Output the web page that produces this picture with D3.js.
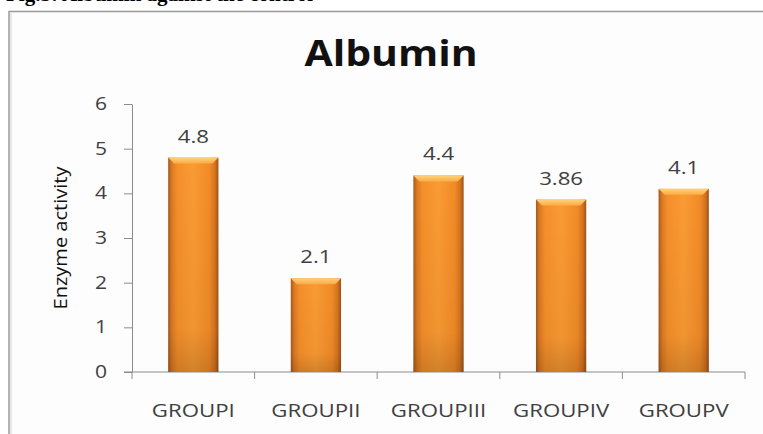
<!DOCTYPE html>
<html>
<head>
<meta charset="utf-8">
<script src="https://cdn.jsdelivr.net/npm/d3@7"></script>
<style>
  html, body { margin: 0; padding: 0; background: #fff; }
  svg { display: block; }
</style>
</head>
<body>
<svg id="chart" width="763" height="434"></svg>
<script>
// data
const groups = ["GROUPI", "GROUPII", "GROUPIII", "GROUPIV", "GROUPV"];
const albumin = [4.8, 2.1, 4.4, 3.86, 4.1];
const valueLabels = ["4.8", "2.1", "4.4", "3.86", "4.1"];
const yTicks = [0, 1, 2, 3, 4, 5, 6];

const svg = d3.select("#chart"),
  width = 763,
  height = 434;

const margin = { left: 132, right: 18, top: 104, bottom: 62 };
const textColor = "#404040";
const axisColor = "#8c8c8c";
const stretch = 1.17; // the source picture is stretched sideways

// places a text at (x, y) with the same sideways stretch as the source
function place(sel, fx, fy) {
  return sel.attr("transform", (d, i) => `translate(${fx(d, i)},${fy(d, i)}) scale(${stretch},1)`);
}

// caption line, cut off by the top edge of the page as in the source
svg.append("text")
  .attr("x", 6)
  .attr("y", 1)
  .attr("font-family", "Liberation Serif")
  .attr("font-weight", "bold")
  .attr("font-size", 21)
  .attr("fill", "#000")
  .text("Fig.3: Albumin against the control");

// chart frame
svg.append("rect")
  .attr("x", 9)
  .attr("y", 11.5)
  .attr("width", width + 20)
  .attr("height", height + 20)
  .attr("fill", "#fdfdfd")
  .attr("stroke", "#9a9a9a")
  .attr("stroke-width", 1.5);
svg.append("line")
  .attr("x1", 11).attr("x2", 11)
  .attr("y1", 13).attr("y2", height)
  .attr("stroke", "#d0d0d0");

const x = d3.scaleBand()
  .domain(groups)
  .range([margin.left, width - margin.right])
  .paddingInner(0.59)
  .paddingOuter(0.295);

const y = d3.scaleLinear()
  .domain([0, 6])
  .range([height - margin.bottom, margin.top]);

// gradients for the bevelled bars
const defs = svg.append("defs");
const side = defs.append("linearGradient").attr("id", "barSide")
  .attr("x1", "0%").attr("x2", "100%").attr("y1", "0%").attr("y2", "0%");
[["0%", "#a9581a"], ["7%", "#db7a22"], ["18%", "#f58f2a"], ["50%", "#fa9b33"],
 ["82%", "#f28b27"], ["93%", "#d5741f"], ["100%", "#9e5218"]]
  .forEach(([o, c]) => side.append("stop").attr("offset", o).attr("stop-color", c));

const shade = defs.append("linearGradient").attr("id", "barShade")
  .attr("x1", "0%").attr("x2", "0%").attr("y1", "0%").attr("y2", "100%");
[["0%", "#000", 0], ["80%", "#000", 0.04], ["100%", "#000", 0.16]]
  .forEach(([o, c, a]) => shade.append("stop").attr("offset", o)
    .attr("stop-color", c).attr("stop-opacity", a));

const capGrad = defs.append("linearGradient").attr("id", "barCap")
  .attr("x1", "0%").attr("x2", "0%").attr("y1", "0%").attr("y2", "100%");
[["0%", "#ffd27a"], ["100%", "#fbab45"]]
  .forEach(([o, c]) => capGrad.append("stop").attr("offset", o).attr("stop-color", c));

// title
place(svg.append("text").datum(0), () => 391, () => 66)
  .attr("text-anchor", "middle")
  .attr("font-family", "Open Sans, DejaVu Sans, sans-serif")
  .attr("font-weight", "bold")
  .attr("font-size", 35)
  .attr("fill", "#111")
  .text("Albumin");

// y axis
const yAxis = svg.append("g")
  .attr("transform", `translate(${margin.left},0)`)
  .call(d3.axisLeft(y).tickValues(yTicks).tickSize(8).tickSizeOuter(0).tickFormat(""));
yAxis.select(".domain").attr("stroke", axisColor);
yAxis.selectAll(".tick line").attr("stroke", axisColor);

place(svg.append("g").selectAll("text").data(yTicks).join("text"),
    () => margin.left - 25, (d) => y(d) + 6)
  .attr("text-anchor", "end")
  .attr("font-family", "Open Sans, sans-serif")
  .attr("font-size", 18)
  .attr("fill", textColor)
  .text(d3.format("d"));

// x axis: ticks sit on the category boundaries
const boundaries = groups.map((g) => x(g) - x.step() * x.paddingInner() / 2)
  .concat([width - margin.right]);
const xAxisG = svg.append("g")
  .attr("transform", `translate(0,${y(0)})`);
xAxisG.append("line")
  .attr("x1", margin.left - 8)
  .attr("x2", width - margin.right)
  .attr("stroke", axisColor);
xAxisG.selectAll("line.tk")
  .data(boundaries)
  .join("line")
  .attr("class", "tk")
  .attr("x1", (d) => d).attr("x2", (d) => d)
  .attr("y1", 0).attr("y2", 7)
  .attr("stroke", axisColor);
place(xAxisG.selectAll("text").data(groups).join("text"),
    (d) => x(d) + x.bandwidth() / 2, () => 45)
  .attr("text-anchor", "middle")
  .attr("font-family", "Open Sans, sans-serif")
  .attr("font-size", 19)
  .attr("fill", textColor)
  .text((d) => d);

// y axis title
svg.append("text")
  .attr("transform", `translate(67,238) rotate(-90)`)
  .attr("text-anchor", "middle")
  .attr("font-family", "Open Sans, sans-serif")
  .attr("font-size", 18)
  .attr("textLength", 143)
  .attr("lengthAdjust", "spacingAndGlyphs")
  .attr("fill", "#111")
  .text("Enzyme activity");

// bars
const bars = svg.append("g").selectAll("g")
  .data(albumin)
  .join("g");

bars.append("rect")
  .attr("x", (d, i) => x(groups[i]))
  .attr("y", (d) => y(d))
  .attr("width", x.bandwidth())
  .attr("height", (d) => y(0) - y(d))
  .attr("fill", "url(#barSide)");
bars.append("rect")
  .attr("x", (d, i) => x(groups[i]))
  .attr("y", (d) => y(d))
  .attr("width", x.bandwidth())
  .attr("height", (d) => y(0) - y(d))
  .attr("fill", "url(#barShade)");
// bevelled top cap
bars.append("path")
  .attr("d", (d, i) => {
    const x0 = x(groups[i]), x1 = x0 + x.bandwidth(), t = y(d);
    return `M${x0},${t} L${x1},${t} L${x1 - 6},${t + 6} L${x0 + 6},${t + 6} Z`;
  })
  .attr("fill", "url(#barCap)");

// value labels
place(svg.append("g").selectAll("text").data(albumin).join("text"),
    (d, i) => x(groups[i]) + x.bandwidth() / 2, (d) => y(d) - 15)
  .attr("text-anchor", "middle")
  .attr("font-family", "Open Sans, sans-serif")
  .attr("font-size", 19)
  .attr("fill", textColor)
  .text((d, i) => valueLabels[i]);
</script>
</body>
</html>
